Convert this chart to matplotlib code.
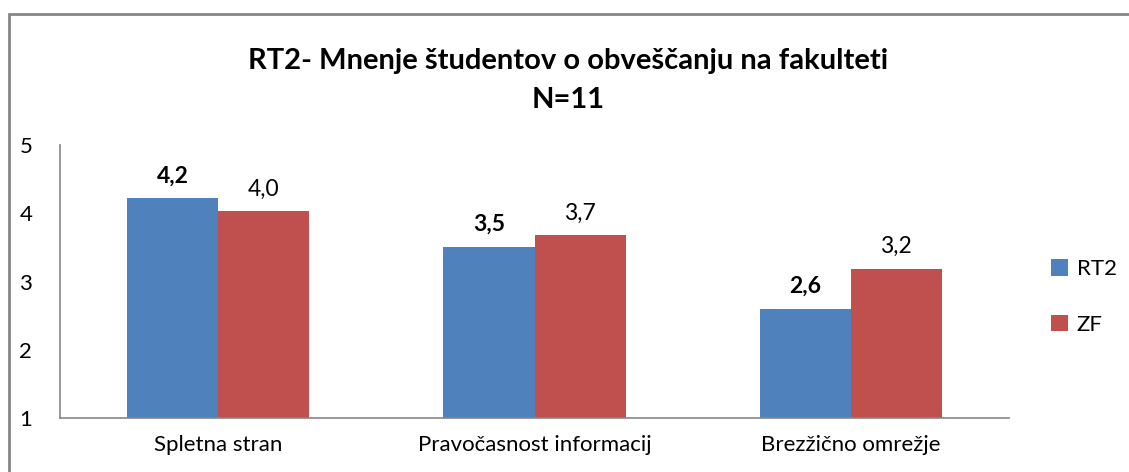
import matplotlib.pyplot as plt
import numpy as np
from matplotlib.patches import Rectangle

categories = ["Spletna stran", "Pravočasnost informacij", "Brezžično omrežje"]
rt2 = [4.22, 3.51, 2.60]
zf = [4.03, 3.68, 3.19]
yticks = [1, 2, 3, 4, 5]

BLUE = "#4F81BD"
RED = "#C0504D"
GRAY = "#868686"

plt.rcParams["font.family"] = ["Lato", "DejaVu Sans"]

fig = plt.figure(figsize=(11.29, 4.72), dpi=100)
ax = fig.add_axes([60 / 1129, (472 - 418) / 472, (1009 - 60) / 1129, (418 - 145) / 472])

x = np.arange(len(categories))
w = 0.288
ax.bar(x - w / 2, np.array(rt2) - 1, w, bottom=1, color=BLUE, label="RT2")
ax.bar(x + w / 2, np.array(zf) - 1, w, bottom=1, color=RED, label="ZF")

for xi, v in zip(x - w / 2, rt2):
    ax.text(xi, v + 0.17, f"{v:.1f}".replace(".", ","), ha="center", va="bottom",
            fontsize=16.5, fontweight="bold")
for xi, v in zip(x + w / 2, zf):
    ax.text(xi, v + 0.17, f"{v:.1f}".replace(".", ","), ha="center", va="bottom",
            fontsize=16.5)

ax.set_xlim(-0.5, len(categories) - 0.5)
ax.set_ylim(1, 5)
ax.set_yticks(yticks)
ax.set_xticks(x)
ax.set_xticklabels(categories)
ax.tick_params(axis="both", length=0, labelsize=16)
ax.tick_params(axis="y", pad=20)
ax.tick_params(axis="x", pad=12)
for s in ["top", "right"]:
    ax.spines[s].set_visible(False)
for s in ["left", "bottom"]:
    ax.spines[s].set_color(GRAY)
    ax.spines[s].set_linewidth(1.2)

fig.text(568 / 1129, 1 - 61 / 472, "RT2- Mnenje študentov o obveščanju na fakulteti",
         ha="center", va="center", fontsize=21, fontweight="bold")
fig.text(568 / 1129, 1 - 100 / 472, "N=11", ha="center", va="center",
         fontsize=21, fontweight="bold")

ax.legend(loc="center left", bbox_to_anchor=(1031 / 1129, 1 - 297 / 472),
          bbox_transform=fig.transFigure, frameon=False, fontsize=16,
          handlelength=0.75, handleheight=0.75, handletextpad=0.4, labelspacing=1.6)

fig.patches.append(Rectangle((8.5 / 1129, -0.1), 1.2, 1 - 13.5 / 472 + 0.1,
                             transform=fig.transFigure, fill=False,
                             edgecolor=GRAY, linewidth=2))

fig.savefig("out.png", dpi=100)
